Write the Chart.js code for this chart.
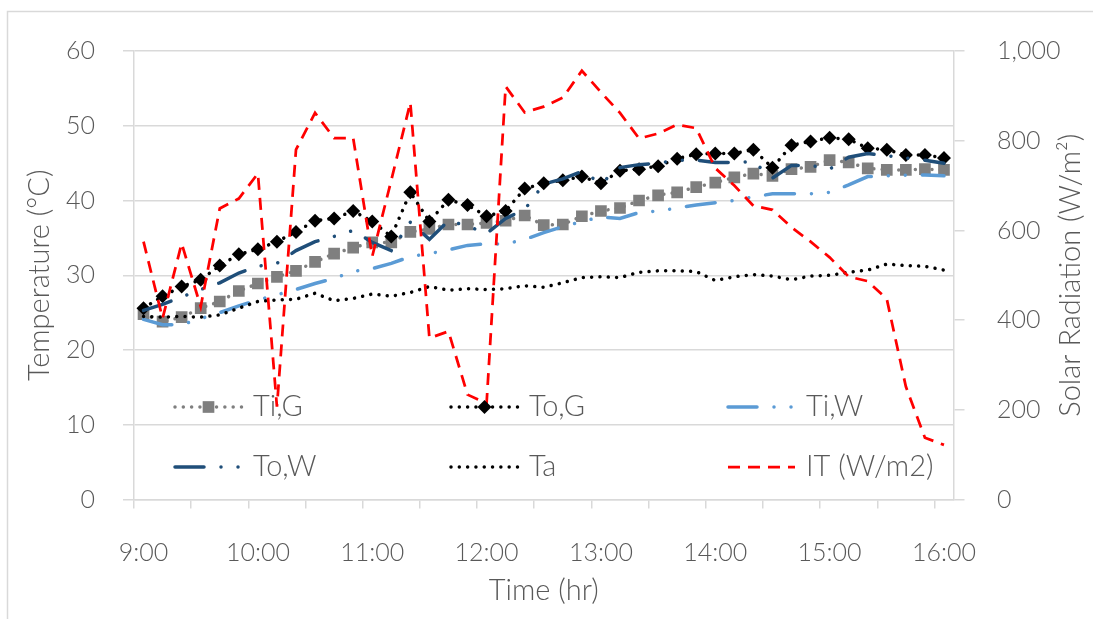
<!DOCTYPE html>
<html>
<head>
<meta charset="utf-8">
<title>Temperature and solar radiation</title>
<script src="https://cdn.jsdelivr.net/npm/chart.js"></script>
<style>
  html, body { margin: 0; padding: 0; background: #fff; }
  #wrap { width: 1093px; height: 619px; }
</style>
</head>
<body>
<div id="wrap"><canvas id="chart" width="1093" height="619"></canvas></div>
<script>
// Readings every 10 minutes, 9:00 - 16:00
const timeLabels = [
    '9:00', '9:10', '9:20', '9:30', '9:40', '9:50',
    '10:00', '10:10', '10:20', '10:30', '10:40', '10:50',
    '11:00', '11:10', '11:20', '11:30', '11:40', '11:50',
    '12:00', '12:10', '12:20', '12:30', '12:40', '12:50',
    '13:00', '13:10', '13:20', '13:30', '13:40', '13:50',
    '14:00', '14:10', '14:20', '14:30', '14:40', '14:50',
    '15:00', '15:10', '15:20', '15:30', '15:40', '15:50',
    '16:00'
];

// Temperatures (C)
const tiG = [24.8, 23.8, 24.4, 25.6, 26.5, 27.9, 28.9, 29.8, 30.6, 31.8,
    32.9, 33.7, 34.4, 34.4, 35.8, 36.2, 36.8, 36.8, 37.0, 37.3,
    38.0, 36.7, 36.8, 37.9, 38.6, 39.0, 40.0, 40.7, 41.1, 41.8,
    42.4, 43.1, 43.6, 43.3, 44.2, 44.5, 45.4, 45.1, 44.3, 44.1,
    44.1, 44.2, 44.1];
const toG = [25.6, 27.2, 28.5, 29.4, 31.3, 32.8, 33.5, 34.5, 35.8, 37.3,
    37.6, 38.6, 37.2, 35.2, 41.1, 37.2, 40.1, 39.4, 37.9, 38.6,
    41.6, 42.3, 42.7, 43.2, 42.3, 44.0, 44.2, 44.6, 45.6, 46.2,
    46.3, 46.3, 46.8, 44.4, 47.4, 47.9, 48.4, 48.2, 47.0, 46.8,
    46.1, 46.1, 45.7];
const tiW = [24.1, 23.4, 23.4, 24.2, 25.0, 25.9, 26.7, 27.4, 28.1, 28.9,
    29.6, 30.5, 30.9, 31.6, 32.5, 32.9, 33.4, 34.0, 34.2, 34.2,
    34.8, 35.7, 36.5, 37.2, 37.8, 37.6, 38.4, 38.6, 39.0, 39.4,
    39.7, 40.0, 40.5, 40.9, 40.9, 40.9, 41.1, 42.1, 43.2, 43.3,
    43.4, 43.4, 43.3];
const toW = [25.3, 26.1, 27.1, 28.1, 29.0, 30.3, 31.2, 31.6, 33.3, 34.5,
    35.2, 36.0, 34.4, 33.3, 37.1, 34.8, 37.3, 36.6, 35.6, 37.6,
    38.8, 42.2, 42.9, 43.9, 42.3, 44.4, 44.8, 45.0, 45.4, 45.4,
    45.1, 45.1, 45.2, 43.0, 44.7, 44.7, 44.2, 45.8, 46.3, 46.0,
    45.7, 45.4, 45.0];
const ta = [24.5, 24.4, 24.5, 24.4, 24.7, 25.6, 26.5, 26.7, 26.8, 27.6,
    26.6, 26.9, 27.5, 27.2, 27.7, 28.5, 28.0, 28.2, 28.1, 28.2,
    28.6, 28.4, 29.0, 29.7, 29.8, 29.7, 30.4, 30.6, 30.6, 30.5,
    29.3, 29.8, 30.1, 29.9, 29.4, 29.9, 30.0, 30.4, 30.7, 31.5,
    31.3, 31.2, 30.7];

// Solar radiation (W/m2)
const it = [575, 404, 571, 430, 649, 671, 727, 207, 780, 862,
    806, 806, 542, 712, 885, 360, 375, 234, 214, 921,
    863, 876, 896, 956, 908, 862, 805, 816, 836, 828,
    739, 700, 655, 646, 607, 575, 540, 497, 487, 447,
    252, 138, 122];

const tempTicks = [0, 10, 20, 30, 40, 50, 60];
const radTicks = [0, 200, 400, 600, 800, 1000];

const textColor = '#595959';
const lineGray = '#d9d9d9';
const fontFamily = 'Lato, "Open Sans", sans-serif';

function font(size) {
    return { family: fontFamily, size: size, weight: '300' };
}

const roundDot = [0.01, 8.3];
const dashDotDot = [29, 17, 0.01, 17, 0.01, 17];

// white page with the light frame around the chart
const frame = {
    id: 'frame',
    beforeDraw(chart) {
        let ctx = chart.ctx;
        ctx.save();
        ctx.fillStyle = '#fff';
        ctx.fillRect(0, 0, chart.width, chart.height);
        ctx.strokeStyle = lineGray;
        ctx.lineWidth = 1.5;
        ctx.strokeRect(7.5, 11.5, chart.width + 10, chart.height + 10);
        ctx.restore();
    }
};

function drawMarker(ctx, style, x, y, r, color) {
    ctx.beginPath();
    if (style === 'rect') {
        let s = r * Math.SQRT1_2;
        ctx.rect(x - s, y - s, 2 * s, 2 * s);
    } else if (style === 'rectRot') {
        ctx.moveTo(x - r, y);
        ctx.lineTo(x, y - r);
        ctx.lineTo(x + r, y);
        ctx.lineTo(x, y + r);
        ctx.closePath();
    }
    ctx.fillStyle = color;
    ctx.fill();
}

// legend drawn inside the plot (2 rows x 3 columns) + right axis title
const insideLegend = {
    id: 'insideLegend',
    afterDraw(chart) {
        let ctx = chart.ctx;
        const colX = [175, 451, 728];
        const rowY = [407, 467];
        chart.data.datasets.forEach((ds, i) => {
            let x = colX[i % 3];
            let y = rowY[Math.floor(i / 3)];
            ctx.save();
            ctx.strokeStyle = ds.borderColor;
            ctx.lineWidth = ds.borderWidth;
            ctx.lineCap = ds.borderCapStyle || 'butt';
            ctx.setLineDash(ds.borderDash || []);
            ctx.beginPath();
            ctx.moveTo(x, y);
            ctx.lineTo(x + 67, y);
            ctx.stroke();
            ctx.setLineDash([]);
            if (ds.pointRadius > 0) {
                drawMarker(ctx, ds.pointStyle, x + 33.5, y, ds.pointRadius, ds.pointBackgroundColor);
            }
            ctx.fillStyle = textColor;
            ctx.font = '300 29px ' + fontFamily;
            ctx.textBaseline = 'middle';
            ctx.textAlign = 'left';
            ctx.fillText(ds.label, x + 78, y);
            ctx.restore();
        });

        // right axis title reads bottom to top
        let area = chart.chartArea;
        ctx.save();
        ctx.translate(1071, (area.top + area.bottom) / 2);
        ctx.rotate(-Math.PI / 2);
        ctx.fillStyle = textColor;
        ctx.font = '300 29px ' + fontFamily;
        ctx.textAlign = 'center';
        ctx.textBaseline = 'middle';
        ctx.fillText('Solar Radiation (W/m\u00B2)', 0, 0);
        ctx.restore();
    }
};

let ctx = document.getElementById('chart').getContext('2d');
new Chart(ctx, {
    type: 'line',
    data: {
        labels: timeLabels,
        datasets: [
            {
                label: 'Ti,G', data: tiG, yAxisID: 'y', order: 6,
                borderColor: '#7f7f7f', borderWidth: 3.5, borderDash: roundDot, borderCapStyle: 'round',
                pointStyle: 'rect', pointRadius: 8.25, pointBorderWidth: 0,
                pointBackgroundColor: '#7f7f7f'
            },
            {
                label: 'To,G', data: toG, yAxisID: 'y', order: 5,
                borderColor: '#000000', borderWidth: 3.5, borderDash: roundDot, borderCapStyle: 'round',
                pointStyle: 'rectRot', pointRadius: 7, pointBorderWidth: 0,
                pointBackgroundColor: '#000000'
            },
            {
                label: 'Ti,W', data: tiW, yAxisID: 'y', order: 4,
                borderColor: '#5b9bd5', borderWidth: 3.5, borderDash: dashDotDot, borderCapStyle: 'round',
                pointRadius: 0
            },
            {
                label: 'To,W', data: toW, yAxisID: 'y', order: 3,
                borderColor: '#1f4e79', borderWidth: 3.5, borderDash: dashDotDot, borderCapStyle: 'round',
                pointRadius: 0
            },
            {
                label: 'Ta', data: ta, yAxisID: 'y', order: 2,
                borderColor: '#000000', borderWidth: 3.5, borderDash: roundDot, borderCapStyle: 'round',
                pointRadius: 0
            },
            {
                label: 'IT (W/m2)', data: it, yAxisID: 'y1', order: 1,
                borderColor: '#ff0000', borderWidth: 2.75, borderDash: [12, 8], borderCapStyle: 'butt',
                pointRadius: 0
            }
        ]
    },
    options: {
        responsive: false,
        animation: false,
        events: [],
        layout: { padding: { top: 51, left: 0, right: 0, bottom: 0 } },
        elements: { line: { tension: 0, fill: false } },
        plugins: {
            legend: { display: false },
            tooltip: { enabled: false }
        },
        scales: {
            x: {
                type: 'category',
                offset: true,
                grid: {
                    offset: true,
                    drawOnChartArea: false,
                    tickLength: 9,
                    lineWidth: 1.5,
                    color: c => (c.index % 3 === 0 ? lineGray : 'rgba(0,0,0,0)')
                },
                border: { color: lineGray, width: 1.5 },
                ticks: {
                    autoSkip: false,
                    maxRotation: 0,
                    minRotation: 0,
                    padding: 29,
                    color: textColor,
                    font: font(25),
                    callback: (v, i) => (i % 6 === 0 ? timeLabels[i] : '')
                },
                title: {
                    display: true, text: 'Time (hr)', color: textColor, font: font(29),
                    padding: { top: 0, bottom: 10.6 }
                },
                afterFit: s => { s.height = 119.4; }
            },
            y: {
                position: 'left',
                min: tempTicks[0],
                max: tempTicks[tempTicks.length - 1],
                afterBuildTicks: s => { s.ticks = tempTicks.map(v => ({ value: v })); },
                grid: { color: lineGray, lineWidth: 1.5, tickLength: 11 },
                border: { color: lineGray, width: 1.5 },
                ticks: { padding: 28, color: textColor, font: font(25) },
                title: {
                    display: true, text: 'Temperature (\u00B0C)', color: textColor, font: font(29),
                    padding: { top: 22.6, bottom: 0 }
                },
                afterFit: s => { s.width = 134; }
            },
            y1: {
                position: 'right',
                min: radTicks[0],
                max: radTicks[radTicks.length - 1],
                afterBuildTicks: s => { s.ticks = radTicks.map(v => ({ value: v })); },
                grid: { drawOnChartArea: false, color: lineGray, lineWidth: 1.5, tickLength: 11 },
                border: { color: lineGray, width: 1.5 },
                ticks: {
                    padding: 32.5, color: textColor, font: font(25),
                    callback: v => v.toLocaleString('en-US')
                },
                afterFit: s => { s.width = 139.5; }
            }
        }
    },
    plugins: [frame, insideLegend]
});
</script>
</body>
</html>
